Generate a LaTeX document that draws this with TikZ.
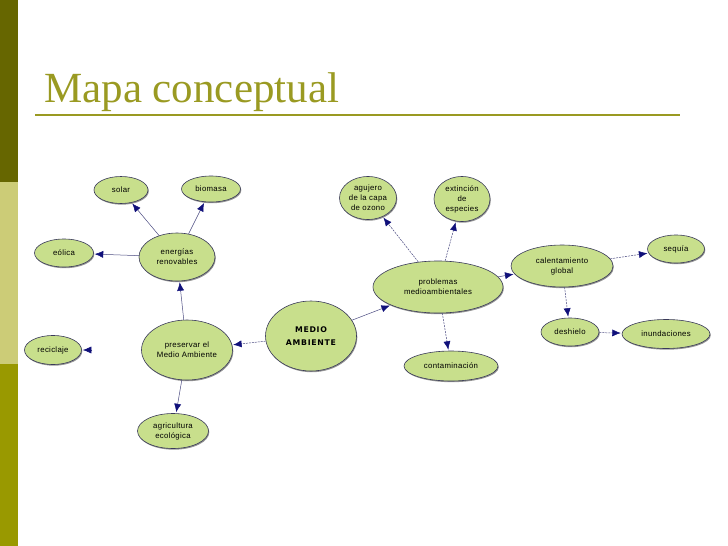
\documentclass[tikz,border=0pt]{standalone}
\usepackage{fontspec}
\setmainfont{Liberation Serif}
\newfontfamily\nodefont[LetterSpace=4]{Liberation Sans}
\newfontfamily\boldnodefont[LetterSpace=9]{DejaVu Sans}
\usetikzlibrary{shapes.geometric,arrows.meta,shadows}
\definecolor{barA}{HTML}{666600}
\definecolor{barB}{HTML}{CCCC77}
\definecolor{barC}{HTML}{999900}
\definecolor{titlecol}{HTML}{9A9A22}
\definecolor{nodefill}{HTML}{C8DF8C}
\definecolor{nodeline}{HTML}{3A3A5A}
\definecolor{edgecol}{HTML}{4A4A80}
\definecolor{tipcol}{HTML}{10107A}
\tikzset{
  concept/.style={ellipse, draw=nodeline, line width=0.6pt, fill=nodefill,
    inner sep=0pt, align=center, font=\nodefont\fontsize{7.8}{10}\selectfont,
    drop shadow={shadow xshift=0.8pt, shadow yshift=-1.2pt, fill=black!60, opacity=0.7}},
  arr/.style={draw=edgecol, line width=0.5pt, -{Latex[length=8.5pt,width=7pt,fill=tipcol,color=tipcol]}, shorten >=1pt},
  darr/.style={arr, dash pattern=on 2pt off 1pt},
}
\begin{document}
\begin{tikzpicture}[x=1pt,y=-1pt]
\useasboundingbox (0,0) rectangle (728,546);
% side bar
\fill[barA] (0,0) rectangle (18,182);
\fill[barB] (0,182) rectangle (18,364);
\fill[barC] (0,364) rectangle (18,546);
% title
\node[anchor=base west, inner sep=0pt, text=titlecol, font=\fontsize{43}{47}\selectfont] (title) at (44,102) {Mapa conceptual};
\draw[titlecol, line width=2pt] (35,115) -- (680,115);
% nodes
\node[concept, minimum width=54pt, minimum height=27pt] (solar) at (121,190) {solar};
\node[concept, minimum width=59pt, minimum height=26pt] (bio) at (211,189) {biomasa};
\node[concept, minimum width=59pt, minimum height=28pt] (eol) at (64,253) {eólica};
\node[concept, minimum width=76pt, minimum height=48pt] (ener) at (177,257) {energías\\renovables};
\node[concept, minimum width=57pt, minimum height=29pt] (rec) at (53,350) {reciclaje};
\node[concept, minimum width=91pt, minimum height=60pt] (pres) at (187,350) {preservar el\\Medio Ambiente};
\node[concept, minimum width=71pt, minimum height=35pt] (agri) at (173,431) {agricultura\\ecológica};
\node[concept, minimum width=91pt, minimum height=70pt, font=\boldnodefont\bfseries\fontsize{7.8}{12.5}\selectfont] (medio) at (311,336) {MEDIO\\AMBIENTE};
\node[concept, minimum width=57pt, minimum height=43pt] (aguj) at (368,198) {agujero\\de la capa\\de ozono};
\node[concept, minimum width=56pt, minimum height=45pt] (ext) at (462,199) {extinción\\de\\especies};
\node[concept, minimum width=130pt, minimum height=52pt] (prob) at (438,287) {problemas\\medioambientales};
\node[concept, minimum width=94pt, minimum height=30pt] (cont) at (451,366) {contaminación};
\node[concept, minimum width=102pt, minimum height=42pt] (cal) at (562,266) {calentamiento\\global};
\node[concept, minimum width=57pt, minimum height=28pt] (seq) at (676,249) {sequía};
\node[concept, minimum width=58pt, minimum height=28pt] (desh) at (570,332) {deshielo};
\node[concept, minimum width=88pt, minimum height=29pt] (inun) at (666,334) {inundaciones};
\coordinate (recend) at (92,350);
% edges
\draw[arr] (ener) -- (solar);
\draw[arr] (ener) -- (bio);
\draw[arr] (ener) -- (eol);
\draw[arr] (pres) -- (ener);
\draw[arr] (recend) -- (rec);
\draw[darr] (medio) -- (pres);
\draw[arr] (pres) -- (agri);
\draw[arr] (medio) -- (prob);
\draw[darr] (prob) -- (aguj);
\draw[darr] (prob) -- (ext);
\draw[arr] (prob) -- (cal);
\draw[darr] (prob) -- (cont);
\draw[darr] (cal) -- (seq);
\draw[darr] (cal) -- (desh);
\draw[darr] (desh) -- (inun);
\end{tikzpicture}
\end{document}
